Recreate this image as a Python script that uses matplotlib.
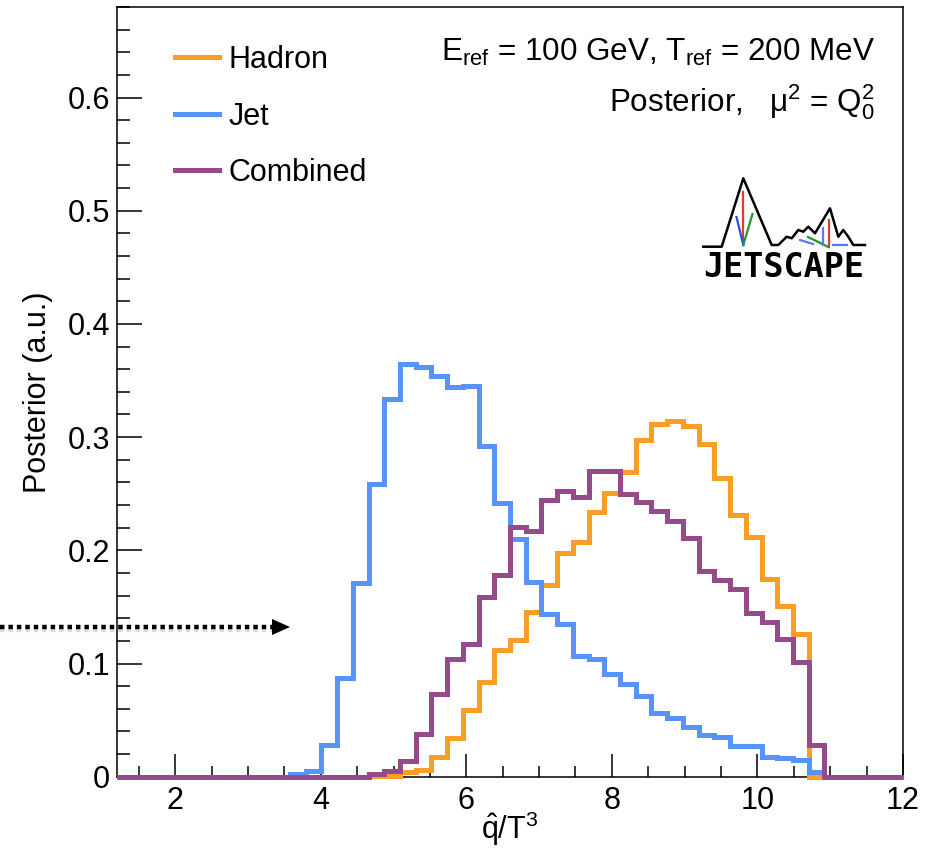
import numpy as np
import matplotlib
matplotlib.use('Agg')
import matplotlib.pyplot as plt
import matplotlib.transforms as mtransforms
from matplotlib.lines import Line2D
from matplotlib.patches import Polygon
from matplotlib.ticker import MultipleLocator, FixedLocator, FuncFormatter

plt.rcParams['font.family'] = ['Liberation Sans', 'DejaVu Sans']
plt.rcParams['mathtext.fontset'] = 'custom'
plt.rcParams['mathtext.rm'] = 'Liberation Sans'
plt.rcParams['mathtext.it'] = 'Liberation Sans:italic'
plt.rcParams['mathtext.bf'] = 'Liberation Sans:bold'

# ---------------- data ----------------
x_min, x_max, n_bins = 1.2, 12.0, 50
bin_edges = np.linspace(x_min, x_max, n_bins + 1)

hadron = [0]*16 + [0.0005, 0.001, 0.004, 0.006, 0.017, 0.034, 0.059, 0.084, 0.112, 0.121,
                   0.1455, 0.169, 0.198, 0.207, 0.234, 0.2505, 0.269, 0.2975, 0.3116, 0.3146,
                   0.310, 0.294, 0.264, 0.231, 0.212, 0.175, 0.151, 0.1265] + [0]*6
jet = [0]*11 + [0.002, 0.005, 0.028, 0.087, 0.171, 0.259, 0.334, 0.365, 0.362, 0.354,
                0.344, 0.345, 0.292, 0.242, 0.210, 0.172, 0.144, 0.135, 0.107, 0.104,
                0.091, 0.082, 0.071, 0.056, 0.0515, 0.044, 0.037, 0.035, 0.027, 0.027,
                0.0176, 0.0165, 0.0145, 0.004] + [0]*5
combined = [0]*16 + [0.002, 0.005, 0.014, 0.038, 0.073, 0.104, 0.1176, 0.159, 0.178, 0.2205,
                     0.217, 0.2446, 0.2528, 0.247, 0.2705, 0.2705, 0.250, 0.2425, 0.235, 0.2258,
                     0.211, 0.182, 0.1735, 0.166, 0.145, 0.1367, 0.122, 0.1014, 0.028] + [0]*5

series_labels = ['Hadron', 'Jet', 'Combined']
series_colors = ['#F99D25', '#5893F9', '#964A8A']
x_major_ticks = [2, 4, 6, 8, 10, 12]
y_major_ticks = [0, 0.1, 0.2, 0.3, 0.4, 0.5, 0.6]
y_max = 0.68

# ---------------- figure ----------------
W, H = 936, 850
fig = plt.figure(figsize=(W/100, H/100), dpi=100)
ax_l, ax_r, ax_t, ax_b = 117, 903, 7, 776.7
ax = fig.add_axes([ax_l/W, 1 - ax_b/H, (ax_r-ax_l)/W, (ax_b-ax_t)/H])

handles = []
for vals, lab, col, z in zip([hadron, jet, combined], series_labels, series_colors, [3, 4, 5]):
    ax.stairs(vals, bin_edges, color=col, lw=3.6, baseline=None, clip_on=False, zorder=z)
    handles.append(Line2D([], [], color=col, lw=3.6, label=lab))

ax.set_xlim(x_min, x_max)
ax.set_ylim(0, y_max)

for s in ax.spines.values():
    s.set_linewidth(1.1)
    s.set_zorder(2)

ax.xaxis.set_major_locator(FixedLocator(x_major_ticks))
ax.xaxis.set_minor_locator(MultipleLocator(0.5))
ax.yaxis.set_major_locator(FixedLocator(y_major_ticks))
ax.yaxis.set_minor_locator(MultipleLocator(0.02))
ax.xaxis.set_major_formatter(FuncFormatter(lambda v, p: '%d' % round(v)))
ax.yaxis.set_major_formatter(FuncFormatter(lambda v, p: '0' if abs(v) < 1e-9 else '%.1f' % v))

ax.tick_params(axis='both', which='both', direction='in', top=False, right=False,
               width=1.1, labelsize=22)
ax.tick_params(axis='x', which='major', length=16.5, pad=7)
ax.tick_params(axis='x', which='minor', length=8)
ax.tick_params(axis='y', which='major', length=18, pad=5)
ax.tick_params(axis='y', which='minor', length=9)

ax.set_xlabel(r'$\hat{\mathrm{q}}$/T$^{3}$', fontsize=22)
ax.xaxis.set_label_coords(0.5, -0.043)
ax.set_ylabel('Posterior (a.u.)', fontsize=22)
ax.yaxis.set_label_coords(-0.082, 0.5)

ax.legend(handles=handles, loc='upper left', bbox_to_anchor=((175-ax_l)/(ax_r-ax_l), 1 - (45-ax_t)/(ax_b-ax_t)),
          frameon=False, fontsize=22, handlelength=1.45, handletextpad=0.3,
          labelspacing=0.87, borderpad=0, borderaxespad=0)

# ---------------- annotations ----------------
px = mtransforms.Affine2D().scale(1/W, -1/H).translate(0, 1) + fig.transFigure

fig.text(875/W, 1 - 61/H, r'E$_{\mathrm{ref}}$ = 100 GeV, T$_{\mathrm{ref}}$ = 200 MeV',
         ha='right', va='baseline', fontsize=22.6)
fig.text(875/W, 1 - 112/H, r'Posterior,   μ$^{2}$ = $\mathrm{Q}_{0}^{2}$',
         ha='right', va='baseline', fontsize=22.6)

# JETSCAPE logo (approximate)
mx = [703.3, 721.7, 743.3, 771.7, 778.3, 786.7, 791.7, 798.3, 803.3, 808.3, 815, 830,
      838.3, 843.3, 848.3, 853.3, 865]
my = [246.7, 246.7, 178.3, 245, 245, 236.7, 238.3, 230, 231.7, 226.7, 233.3, 208.3,
      236.7, 230, 236.7, 245, 245]
fig.add_artist(Line2D(mx, my, color='black', lw=1.8, transform=px))
logo_segs = [([743.3, 743.3], [191.7, 245], '#E8382B'),
             ([736.5, 743.3], [217, 245], '#2A4BE0'),
             ([743.3, 752.5], [245, 214], '#1E9A2A'),
             ([828.5, 828.5], [220, 247], '#E8382B'),
             ([808, 828.5], [237, 247], '#1E9A2A'),
             ([822.5, 822.5], [228, 245], '#5A7BF0'),
             ([800, 813], [240, 244], '#5A7BF0'),
             ([833, 847], [245, 245], '#5A7BF0')]
for sx, sy, c in logo_segs:
    fig.add_artist(Line2D(sx, sy, color=c, lw=1.6, transform=px))
fig.text(784/W, 1 - 267/H, 'JETSCAPE', ha='center', va='center', fontsize=24,
         family='DejaVu Sans Mono', weight='bold')

# dotted arrow on the left
fig.add_artist(Line2D([0, 272], [630, 630], color='#999999', lw=3.2, alpha=0.35,
                      linestyle=(0, (1, 0.9)), transform=px))
fig.add_artist(Line2D([0, 272], [627, 627], color='black', lw=3.2,
                      linestyle=(0, (1, 0.9)), transform=px, solid_capstyle='butt'))
fig.add_artist(Polygon([[272, 619], [290, 627], [272, 635]], closed=True,
                       facecolor='black', edgecolor='none', transform=px))

fig.savefig('out.png', dpi=100)
